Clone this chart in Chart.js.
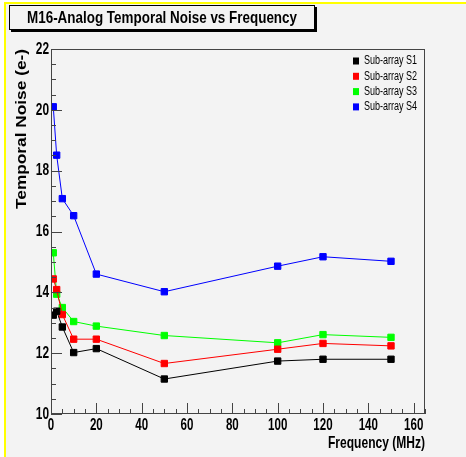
<!DOCTYPE html>
<html>
<head>
<meta charset="utf-8">
<script src="https://cdn.jsdelivr.net/npm/chart.js"></script>
<style>
  body { margin: 0; background: #fff; }
  canvas { display: block; }
</style>
</head>
<body>
<canvas id="noise" width="466" height="457"></canvas>
<script>
var frequency = [1, 2.5, 5, 10, 20, 50, 100, 120, 150];
var s1 = [13.25, 13.38, 12.86, 12.02, 12.15, 11.15, 11.74, 11.80, 11.80];
var s2 = [14.44, 14.09, 13.27, 12.46, 12.46, 11.66, 12.13, 12.32, 12.24];
var s3 = [15.30, 13.94, 13.50, 13.04, 12.89, 12.58, 12.34, 12.61, 12.52];
var s4 = [20.10, 18.51, 17.08, 16.52, 14.60, 14.02, 14.86, 15.17, 15.02];
var seriesLabels = ['Sub-array S1', 'Sub-array S2', 'Sub-array S3', 'Sub-array S4'];
var seriesColors = ['#000000', '#ff0000', '#00ff00', '#0000ff'];
var xTicks = [0, 20, 40, 60, 80, 100, 120, 140, 160];
var yTicks = [10, 12, 14, 16, 18, 20, 22];

var sans = '"Liberation Sans", Arial, Helvetica, sans-serif';

function points(values) {
  return frequency.map(function(f, i) { return { x: f, y: values[i] }; });
}

var datasets = [s1, s2, s3, s4].map(function(vals, i) {
  return {
    label: seriesLabels[i],
    data: points(vals),
    borderColor: seriesColors[i],
    backgroundColor: seriesColors[i],
    borderWidth: 1,
    pointStyle: 'rect',
    pointRadius: 4.5,
    pointBorderWidth: 1,
    pointHoverRadius: 4.5,
    showLine: true,
    tension: 0
  };
});

// text squeezed/stretched horizontally, ROOT fonts are condensed helvetica
function squeezed(c, text, x, y, font, sx, align) {
  c.save();
  c.font = font;
  c.textAlign = align;
  c.textBaseline = 'middle';
  c.translate(x, y);
  c.scale(sx, 1);
  c.fillText(text, 0, 0);
  c.restore();
}

function fitScale(c, text, font, width) {
  c.save();
  c.font = font;
  var w = c.measureText(text).width;
  c.restore();
  return width / w;
}

// ROOT style decorations: frame, inner ticks, labels, title box, axis titles, legend
var rootStyle = {
  id: 'rootStyle',
  beforeDraw: function(chart) {
    var c = chart.ctx;
    c.save();
    c.fillStyle = '#ffffff';
    c.fillRect(0, 0, chart.width, chart.height);
    c.fillStyle = '#ffff00';
    c.fillRect(4, 2, chart.width, chart.height);
    c.fillStyle = '#f3f3f3';
    c.fillRect(6, 4, chart.width, chart.height);
    c.restore();
  },
  afterDraw: function(chart) {
    var c = chart.ctx;
    var a = chart.chartArea;
    var xs = chart.scales.x, ys = chart.scales.y;
    c.save();

    // frame
    c.strokeStyle = '#444';
    c.lineWidth = 1;
    c.strokeRect(a.left + 0.5, a.top + 0.5, a.right - a.left - 1, a.bottom - a.top - 1);

    // inner ticks
    c.beginPath();
    var v, px;
    for (v = 0; v <= 165; v += 5) {
      px = Math.round(xs.getPixelForValue(v)) + 0.5;
      var lx = (v % 20 === 0) ? 11 : 5;
      c.moveTo(px, a.bottom);
      c.lineTo(px, a.bottom - lx);
    }
    for (v = 10; v <= 22; v += 0.5) {
      px = Math.round(ys.getPixelForValue(v)) + 0.5;
      var ly = (v % 2 === 0) ? 11 : 5;
      c.moveTo(a.left, px);
      c.lineTo(a.left + ly, px);
    }
    c.stroke();

    // tick labels
    c.fillStyle = '#000';
    var tickFont = 'bold 17px ' + sans;
    xTicks.forEach(function(t) {
      squeezed(c, String(t), xs.getPixelForValue(t), a.bottom + 11, tickFont, 0.68, 'center');
    });
    yTicks.forEach(function(t) {
      squeezed(c, String(t), a.left - 2, ys.getPixelForValue(t), tickFont, 0.7, 'right');
    });

    // title box with shadow
    c.fillStyle = '#000';
    c.fillRect(11, 7, 306, 25);
    c.fillStyle = '#f3f3f3';
    c.fillRect(9, 5, 306, 25);
    c.strokeStyle = '#000';
    c.strokeRect(9.5, 5.5, 305, 24);
    c.fillStyle = '#000';
    var title = 'M16-Analog Temporal Noise vs Frequency';
    var tf = 'bold 17px ' + sans;
    squeezed(c, title, 162, 18, tf, fitScale(c, title, tf, 270), 'center');

    // axis titles
    var xt = 'Frequency (MHz)';
    var xf = 'bold 16.5px ' + sans;
    squeezed(c, xt, a.right, 443, xf, fitScale(c, xt, xf, 97), 'right');

    var yt = 'Temporal Noise (e-)';
    var yf = 'bold 15px ' + sans;
    c.save();
    c.translate(22, a.top);
    c.rotate(-Math.PI / 2);
    squeezed(c, yt, 0, 0, yf, fitScale(c, yt, yf, 160), 'right');
    c.restore();

    // legend
    var lf = '12px ' + sans;
    for (var i = 0; i < seriesLabels.length; i++) {
      var y = 61 + i * 15.3;
      c.fillStyle = seriesColors[i];
      c.fillRect(353, y - 3.5, 6, 7);
      c.fillStyle = '#000';
      squeezed(c, seriesLabels[i], 364, y, lf, fitScale(c, 'Sub-array S1', lf, 53), 'left');
    }
    c.restore();
  }
};

var ctx = document.getElementById('noise').getContext('2d');
var chart = new Chart(ctx, {
  type: 'scatter',
  data: { datasets: datasets },
  plugins: [rootStyle],
  options: {
    responsive: false,
    animation: false,
    events: [],
    layout: { padding: { top: 49, right: 41, left: 0, bottom: 0 } },
    plugins: {
      legend: { display: false },
      title: { display: false },
      tooltip: { enabled: false }
    },
    scales: {
      x: {
        type: 'linear',
        min: 0,
        max: 165,
        grid: { display: false, drawTicks: false },
        border: { display: false },
        afterBuildTicks: function(scale) {
          scale.ticks = xTicks.map(function(t) { return { value: t }; });
        },
        afterFit: function(scale) { scale.height = 43; },
        ticks: { display: false }
      },
      y: {
        type: 'linear',
        min: 10,
        max: 22,
        grid: { display: false, drawTicks: false },
        border: { display: false },
        afterBuildTicks: function(scale) {
          scale.ticks = yTicks.map(function(t) { return { value: t }; });
        },
        afterFit: function(scale) { scale.width = 51; },
        ticks: { display: false }
      }
    }
  }
});
</script>
</body>
</html>
